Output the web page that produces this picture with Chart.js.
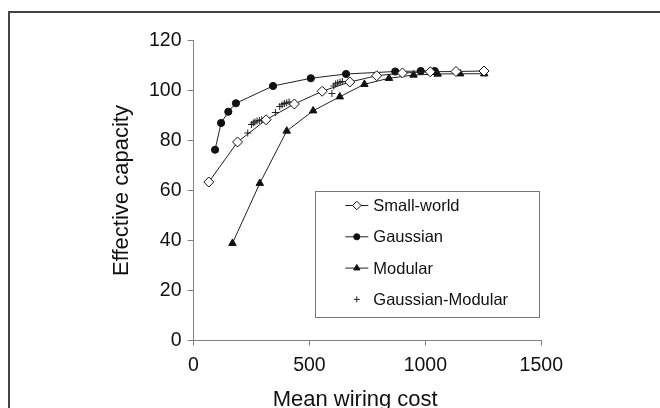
<!DOCTYPE html>
<html>
<head>
<meta charset="utf-8">
<script src="https://cdn.jsdelivr.net/npm/chart.js@4"></script>
<style>
	html, body { margin: 0; padding: 0; background: #fff; overflow: hidden; }
	#wrap { position: relative; width: 660px; height: 420px; }
	#frame { position: absolute; left: 8px; top: 11px; width: 700px; height: 500px; border: 2px solid #444; box-sizing: border-box; }
	canvas { position: absolute; left: 0; top: 0; }
</style>
</head>
<body>
<div id="wrap">
	<div id="frame"></div>
	<canvas id="chart" width="660" height="420"></canvas>
</div>
<script>
const seriesNames = ["Small-world", "Gaussian", "Modular", "Gaussian-Modular"];

const smallWorldX = [66, 190, 313, 435, 555, 674, 790, 901, 1021, 1132, 1253];
const smallWorldY = [63.4, 79.4, 88.3, 94.6, 99.7, 103.4, 105.9, 107.0, 107.5, 107.6, 107.8];

const gaussianX = [93, 119, 150, 183, 343, 506, 658, 870, 980, 1040];
const gaussianY = [76.3, 87.0, 91.5, 94.9, 101.8, 104.9, 106.6, 107.6, 107.8, 107.8];

const modularX = [168, 286, 402, 516, 631, 737, 843, 949, 1053, 1150, 1254];
const modularY = [38.9, 62.9, 83.8, 91.9, 97.5, 102.5, 104.9, 106.2, 106.6, 106.7, 106.7];

const gaussModX = [234, 250, 258, 265, 274, 284, 294, 353, 372, 382, 392, 402, 412, 597, 605, 613, 622, 632, 642];
const gaussModY = [83.0, 86.4, 87.0, 87.4, 87.8, 88.0, 88.3, 91.2, 93.6, 94.3, 94.8, 95.1, 95.4, 98.8, 101.8, 102.6, 103.0, 103.3, 103.6];

const xTicks = [0, 500, 1000, 1500];
const yTicks = [0, 20, 40, 60, 80, 100, 120];

const FONT = "'Liberation Sans', Arial, sans-serif";
const INK = "#111";
const AXIS = "#808080";

function points (xs, ys) {
	return xs.map((x, i) => ({ x: x, y: ys[i] }));
}

// legend drawn inside the plot, in a bordered box like the original
const boxLegend = {
	id: "boxLegend",
	afterDraw (chart) {
		const ctx = chart.ctx;
		const area = chart.chartArea;
		const w = 224;
		const h = 126;
		const left = area.right - w - 2;
		const top = area.top + 150;
		ctx.save();
		ctx.strokeStyle = "#777";
		ctx.lineWidth = 1;
		ctx.strokeRect(Math.round(left) + 0.5, Math.round(top) + 0.5, w, h);
		ctx.font = "16.5px " + FONT;
		ctx.textBaseline = "middle";
		chart.data.datasets.forEach((ds, i) => {
			const y = top + 15 + i * 31.3;
			const x0 = left + 30;
			const x1 = left + 53;
			if (ds.showLine !== false) {
				ctx.strokeStyle = ds.borderColor;
				ctx.lineWidth = ds.borderWidth;
				ctx.beginPath();
				ctx.moveTo(x0, y);
				ctx.lineTo(x1, y);
				ctx.stroke();
			}
			ctx.fillStyle = ds.pointBackgroundColor;
			ctx.strokeStyle = ds.pointBorderColor;
			ctx.lineWidth = ds.pointBorderWidth;
			Chart.helpers.drawPoint(ctx, {
				pointStyle: ds.pointStyle,
				radius: ds.legendRadius,
				rotation: 0,
				borderWidth: ds.pointBorderWidth
			}, (x0 + x1) / 2, y);
			ctx.fillStyle = INK;
			ctx.fillText(ds.label, left + 58, y + 1);
		});
		ctx.restore();
	}
};

function lineSet (label, xs, ys, style, radius, fill) {
	return {
		label: label,
		data: points(xs, ys),
		showLine: true,
		borderColor: "#222",
		borderWidth: 1,
		pointStyle: style,
		pointRadius: radius,
		pointHoverRadius: radius,
		legendRadius: radius * 0.85,
		pointBackgroundColor: fill,
		pointBorderColor: "#111",
		pointBorderWidth: 1,
		tension: 0
	};
}

const datasets = [
	lineSet(seriesNames[0], smallWorldX, smallWorldY, "rectRot", 5, "#fff"),
	lineSet(seriesNames[1], gaussianX, gaussianY, "circle", 3.6, "#111"),
	lineSet(seriesNames[2], modularX, modularY, "triangle", 4.3, "#111"),
	{
		label: seriesNames[3],
		data: points(gaussModX, gaussModY),
		showLine: false,
		borderColor: "#222",
		borderWidth: 1,
		pointStyle: "cross",
		pointRadius: 3.5,
		pointHoverRadius: 3.5,
		legendRadius: 3,
		pointBackgroundColor: "#222",
		pointBorderColor: "#222",
		pointBorderWidth: 1
	}
];

const tickFont = { family: FONT, size: 19.5 };

new Chart(document.getElementById("chart"), {
	type: "scatter",
	data: { datasets: datasets },
	plugins: [boxLegend],
	options: {
		responsive: false,
		animation: false,
		devicePixelRatio: 1,
		layout: { padding: { left: 109, top: 40.5, right: 118.7, bottom: 0 } },
		plugins: {
			legend: { display: false },
			tooltip: { enabled: false }
		},
		scales: {
			x: {
				type: "linear",
				min: xTicks[0],
				max: xTicks[xTicks.length - 1],
				afterBuildTicks: (scale) => { scale.ticks = xTicks.map((v) => ({ value: v })); },
				afterFit: (scale) => { scale.height = 79.5; },
				grid: { drawOnChartArea: false, drawTicks: true, tickLength: 5, color: AXIS },
				border: { display: true, color: AXIS, width: 1 },
				ticks: { color: INK, font: tickFont, padding: 8, maxRotation: 0, callback: (v) => String(v) },
				title: {
					display: true,
					text: "Mean wiring cost\u00a0\u00a0\u00a0\u00a0",
					color: INK,
					font: { family: FONT, size: 22 },
					padding: { top: 0, bottom: 7 }
				}
			},
			y: {
				type: "linear",
				min: yTicks[0],
				max: yTicks[yTicks.length - 1],
				afterBuildTicks: (scale) => { scale.ticks = yTicks.map((v) => ({ value: v })); },
				afterFit: (scale) => { scale.width = 84.5; },
				grid: { drawOnChartArea: false, drawTicks: true, tickLength: 6, color: AXIS },
				border: { display: true, color: AXIS, width: 1 },
				ticks: { color: INK, font: tickFont, padding: 6, callback: (v) => String(v) },
				title: {
					display: true,
					text: "Effective capacity",
					color: INK,
					font: { family: FONT, size: 22 },
					padding: 0
				}
			}
		}
	}
});
</script>
</body>
</html>
